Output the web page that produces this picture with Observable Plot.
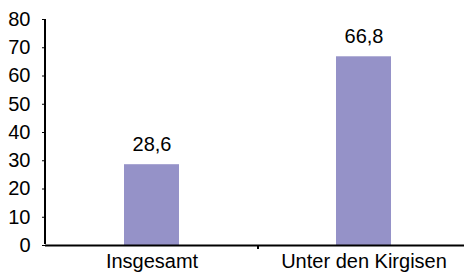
<!DOCTYPE html>
<html>
<head>
<meta charset="utf-8">
<script src="https://cdn.jsdelivr.net/npm/d3@7"></script>
<script src="https://cdn.jsdelivr.net/npm/@observablehq/plot@0.6"></script>
<style>
  html, body { margin: 0; padding: 0; background: #fff; }
  svg { font-family: "Liberation Sans", Arial, sans-serif; }
</style>
</head>
<body>
<div id="chart"></div>
<script>
const categories = ["Insgesamt", "Unter den Kirgisen"];
const values = [28.6, 66.8];
const yTicks = [0, 10, 20, 30, 40, 50, 60, 70, 80];

const data = categories.map((c, i) => ({category: c, value: values[i]}));
const fmt = v => v.toFixed(1).replace(".", ",");

const xRange = [46, 470];
const step = (xRange[1] - xRange[0]) / categories.length;

const chart = Plot.plot({
  width: 464,
  height: 273,
  marginLeft: 45,
  marginRight: 0,
  marginTop: 19,
  marginBottom: 28,
  style: {fontFamily: '"Liberation Sans", Arial, sans-serif', fontSize: "20px", color: "#000", background: "#fff"},
  x: {domain: categories, range: xRange, paddingInner: 0.74, paddingOuter: 0.37, label: null},
  y: {domain: [0, 80], label: null},
  marks: [
    Plot.barY(data, {x: "category", y: "value", fill: "#9592c8"}),
    Plot.text(data, {x: "category", y: "value", text: d => fmt(d.value), dy: -20, fontSize: 20, fill: "#000"}),
    Plot.axisY({ticks: yTicks, tickSize: 3, tickPadding: 12, fontSize: 20, label: null, tickFormat: d => String(d)}),
    Plot.axisX({tickSize: 0, tickPadding: 8, fontSize: 20, label: null}),
    // y-axis line: rule at the left edge of the first band
    Plot.ruleX([categories[0]], {x: d => d, y1: 0, y2: 80, dx: -step / 2 - 1, stroke: "#000", strokeWidth: 2, insetTop: -1}),
    // band-boundary tick under the x axis
    Plot.ruleX([categories[0]], {x: d => d, y1: 0, y2: 0, dx: step / 2, stroke: "#000", strokeWidth: 2, insetBottom: -4}),
    Plot.ruleY([0], {stroke: "#000", strokeWidth: 2})
  ]
});

document.getElementById("chart").appendChild(chart);
</script>
</body>
</html>
